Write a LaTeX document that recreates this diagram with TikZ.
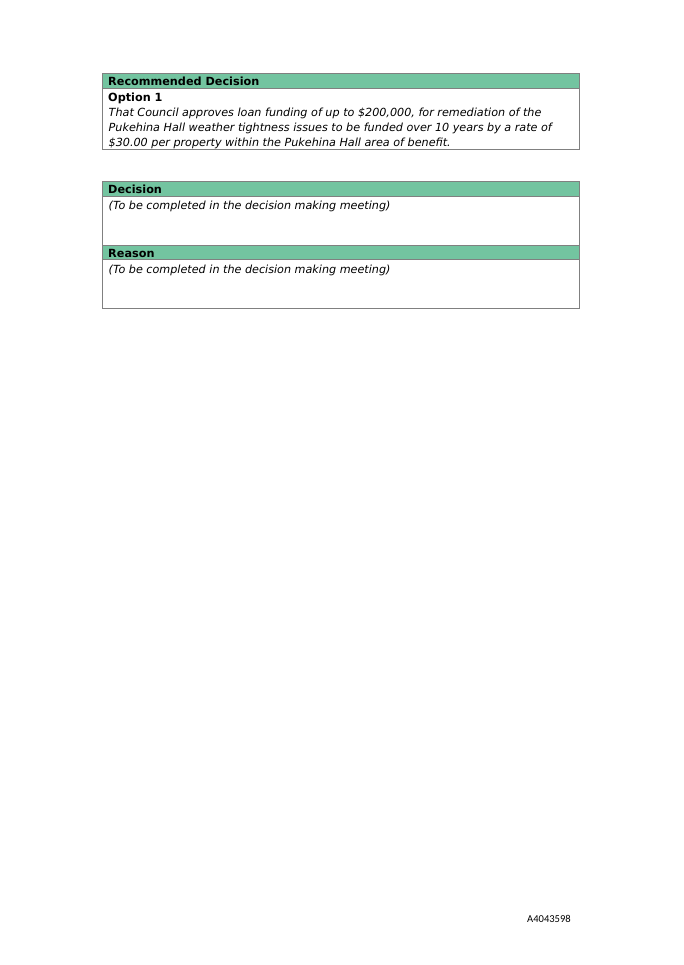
\documentclass[tikz,border=0pt]{standalone}
\usepackage{fontspec}
\setmainfont{DejaVu Sans}
\newfontfamily\refnofont{Carlito}
\definecolor{hdrgreen}{RGB}{115,196,160}
\definecolor{rulegray}{RGB}{128,128,128}
\tikzset{
  hdrbar/.style={fill=hdrgreen,draw=rulegray,line width=0.7pt},
  cellbox/.style={draw=rulegray,line width=0.7pt},
  headtxt/.style={anchor=base west,inner sep=0pt,font=\bfseries\fontsize{9.8}{11}\selectfont},
  bodytxt/.style={anchor=base west,inner sep=0pt,font=\itshape\fontsize{9.75}{11}\selectfont}
}
\begin{document}
\begin{tikzpicture}[x=0.8716pt,y=-0.8716pt]
  \useasboundingbox (0,0) rectangle (683,965);
  \fill[white] (0,0) rectangle (683,965);
  % recommended decision
  \draw[cellbox] (102.5,88) rectangle (579.5,149.5);
  \draw[hdrbar] (102.5,73) rectangle (579.5,88);
  \draw
    (108,85.5) node[headtxt] (rec){Recommended Decision}
    (108,101) node[headtxt] (opt){Option 1}
    (108.5,116) node[bodytxt] (opta){That Council approves loan funding of up to \$200,000, for remediation of the}
    (108.5,131) node[bodytxt] (optb){Pukehina Hall weather tightness issues to be funded over 10 years by a rate of}
    (108.5,146) node[bodytxt] (optc){\$30.00 per property within the Pukehina Hall area of benefit.};
  % decision and reason
  \draw[cellbox] (102.5,196) rectangle (579.5,308.5);
  \draw[hdrbar] (102.5,181.5) rectangle (579.5,196);
  \draw[hdrbar] (102.5,245) rectangle (579.5,259.5);
  \draw
    (108,193.5) node[headtxt] (dec){Decision}
    (108.5,209) node[bodytxt] (dectxt){(To be completed in the decision making meeting)}
    (108,257) node[headtxt] (rea){Reason}
    (108.5,273) node[bodytxt] (reatxt){(To be completed in the decision making meeting)};
  % document number
  \node[anchor=base east,inner sep=0pt,font=\refnofont\fontsize{9.2}{11}\selectfont] (docno) at (571,922.5) {A4043598};
\end{tikzpicture}
\end{document}
